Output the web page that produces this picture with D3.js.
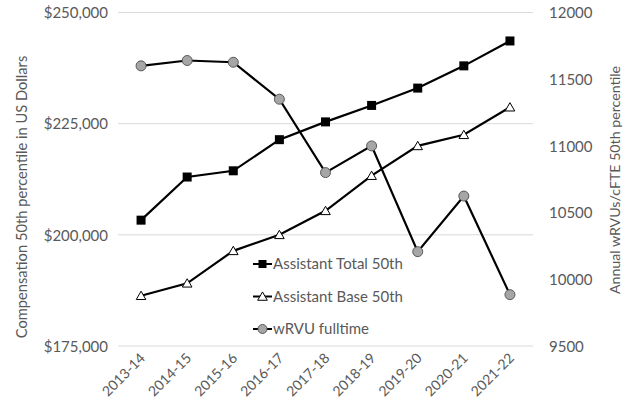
<!DOCTYPE html>
<html>
<head>
<meta charset="utf-8">
<script src="https://cdn.jsdelivr.net/npm/d3@7/dist/d3.min.js"></script>
<style>
  body { margin: 0; background: #fff; }
  text { font-family: Lato, "Open Sans", sans-serif; fill: #595959; }
</style>
</head>
<body>
<div id="chart"></div>
<script>
// data
const years = ['2013-14', '2014-15', '2015-16', '2016-17', '2017-18', '2018-19', '2019-20', '2020-21', '2021-22'];
const totalPay = [203300, 213000, 214400, 221400, 225400, 229100, 233000, 238000, 243600];
const basePay = [186300, 189100, 196400, 200000, 205400, 213300, 220000, 222500, 228700];
const wrvu = [11600, 11640, 11627, 11350, 10800, 11000, 10207, 10624, 9885];
const leftTicks = [175000, 200000, 225000, 250000];
const rightTicks = [9500, 10000, 10500, 11000, 11500, 12000];

const width = 633;
const height = 410;
const plotLeft = 118, plotRight = 533, plotTop = 12.5, plotBottom = 346;

const svg = d3.select('#chart').append('svg')
  .attr('width', width)
  .attr('height', height);

const x = d3.scaleBand().domain(years).range([plotLeft, plotRight]);
const cx = d => x(d) + x.bandwidth() / 2;
const yL = d3.scaleLinear().domain([175000, 250000]).range([plotBottom, plotTop]);
const yR = d3.scaleLinear().domain([9500, 12000]).range([plotBottom, plotTop]);

// gridlines
svg.append('g').selectAll('line').data(leftTicks).join('line')
  .attr('x1', plotLeft).attr('x2', plotRight)
  .attr('y1', d => yL(d)).attr('y2', d => yL(d))
  .attr('stroke', '#d9d9d9').attr('stroke-width', 1);

// left axis
const fmt = d => '$' + d3.format(',')(d);
const leftAxis = svg.append('g')
  .attr('transform', 'translate(' + (plotLeft - 10) + ',0)')
  .call(d3.axisLeft(yL).tickValues(leftTicks).tickFormat(fmt).tickSize(0).tickPadding(0));
leftAxis.select('.domain').remove();
leftAxis.selectAll('text').style('font-size', '15px').attr('dy', '0.35em');

// right axis
const rightAxis = svg.append('g')
  .attr('transform', 'translate(' + (plotRight + 16) + ',0)')
  .call(d3.axisRight(yR).tickValues(rightTicks).tickFormat(d3.format('d')).tickSize(0).tickPadding(0));
rightAxis.select('.domain').remove();
rightAxis.selectAll('text').style('font-size', '15px').attr('dy', '0.35em');

// x axis labels, rotated
const xAxis = svg.append('g')
  .attr('transform', 'translate(0,' + plotBottom + ')')
  .call(d3.axisBottom(x).tickSize(0).tickPadding(0));
xAxis.select('.domain').remove();
xAxis.selectAll('text')
  .style('font-size', '14px')
  .style('text-anchor', 'end')
  .attr('dy', 0).attr('y', 0).attr('x', 0)
  .attr('transform', 'translate(5,13) rotate(-45)');

// axis titles
svg.append('text')
  .attr('transform', 'translate(27,197) rotate(-90)')
  .style('text-anchor', 'middle')
  .style('font-size', '14.7px')
  .text('Compensation 50th percentile in US Dollars');
svg.append('text')
  .attr('transform', 'translate(620,180) rotate(-90)')
  .style('text-anchor', 'middle')
  .style('font-size', '14.2px')
  .text('Annual wRVUs/cFTE 50th percentile');

// lines
const lineL = d3.line().x((d, i) => cx(years[i])).y(d => yL(d));
const lineR = d3.line().x((d, i) => cx(years[i])).y(d => yR(d));

svg.append('path').datum(totalPay).attr('d', lineL)
  .attr('fill', 'none').attr('stroke', '#000').attr('stroke-width', 2.2);
svg.append('path').datum(basePay).attr('d', lineL)
  .attr('fill', 'none').attr('stroke', '#000').attr('stroke-width', 2.2);
svg.append('path').datum(wrvu).attr('d', lineR)
  .attr('fill', 'none').attr('stroke', '#000').attr('stroke-width', 2.2);

// markers
const tri = d3.symbol().type(d3.symbolTriangle).size(40);
svg.append('g').selectAll('rect').data(totalPay).join('rect')
  .attr('x', (d, i) => cx(years[i]) - 4.5).attr('y', d => yL(d) - 4.5)
  .attr('width', 9).attr('height', 9).attr('fill', '#000');
svg.append('g').selectAll('path').data(basePay).join('path')
  .attr('d', tri)
  .attr('transform', (d, i) => 'translate(' + cx(years[i]) + ',' + (yL(d) + 1) + ')')
  .attr('fill', '#fff').attr('stroke', '#000').attr('stroke-width', 1);
svg.append('g').selectAll('circle').data(wrvu).join('circle')
  .attr('cx', (d, i) => cx(years[i])).attr('cy', d => yR(d))
  .attr('r', 5).attr('fill', '#a6a6a6').attr('stroke', '#595959').attr('stroke-width', 1);

// legend
const legendNames = ['Assistant Total 50th', 'Assistant Base 50th', 'wRVU fulltime'];
const legend = svg.append('g').attr('transform', 'translate(253,264)');
legendNames.forEach((name, i) => {
  const row = legend.append('g').attr('transform', 'translate(0,' + (i * 32.5) + ')');
  row.append('line').attr('x1', 0).attr('x2', 19).attr('y1', 0).attr('y2', 0)
    .attr('stroke', '#000').attr('stroke-width', 2);
  if (i === 0) {
    row.append('rect').attr('x', 5.5).attr('y', -4).attr('width', 8).attr('height', 8).attr('fill', '#000');
  } else if (i === 1) {
    row.append('path').attr('d', tri).attr('transform', 'translate(9.5,1)')
      .attr('fill', '#fff').attr('stroke', '#000').attr('stroke-width', 1);
  } else {
    row.append('circle').attr('cx', 9.5).attr('cy', 0).attr('r', 4.5)
      .attr('fill', '#a6a6a6').attr('stroke', '#595959').attr('stroke-width', 1);
  }
  row.append('text').attr('x', 20).attr('y', 0).attr('dy', '0.35em')
    .style('font-size', '15px').text(name);
});
</script>
</body>
</html>
